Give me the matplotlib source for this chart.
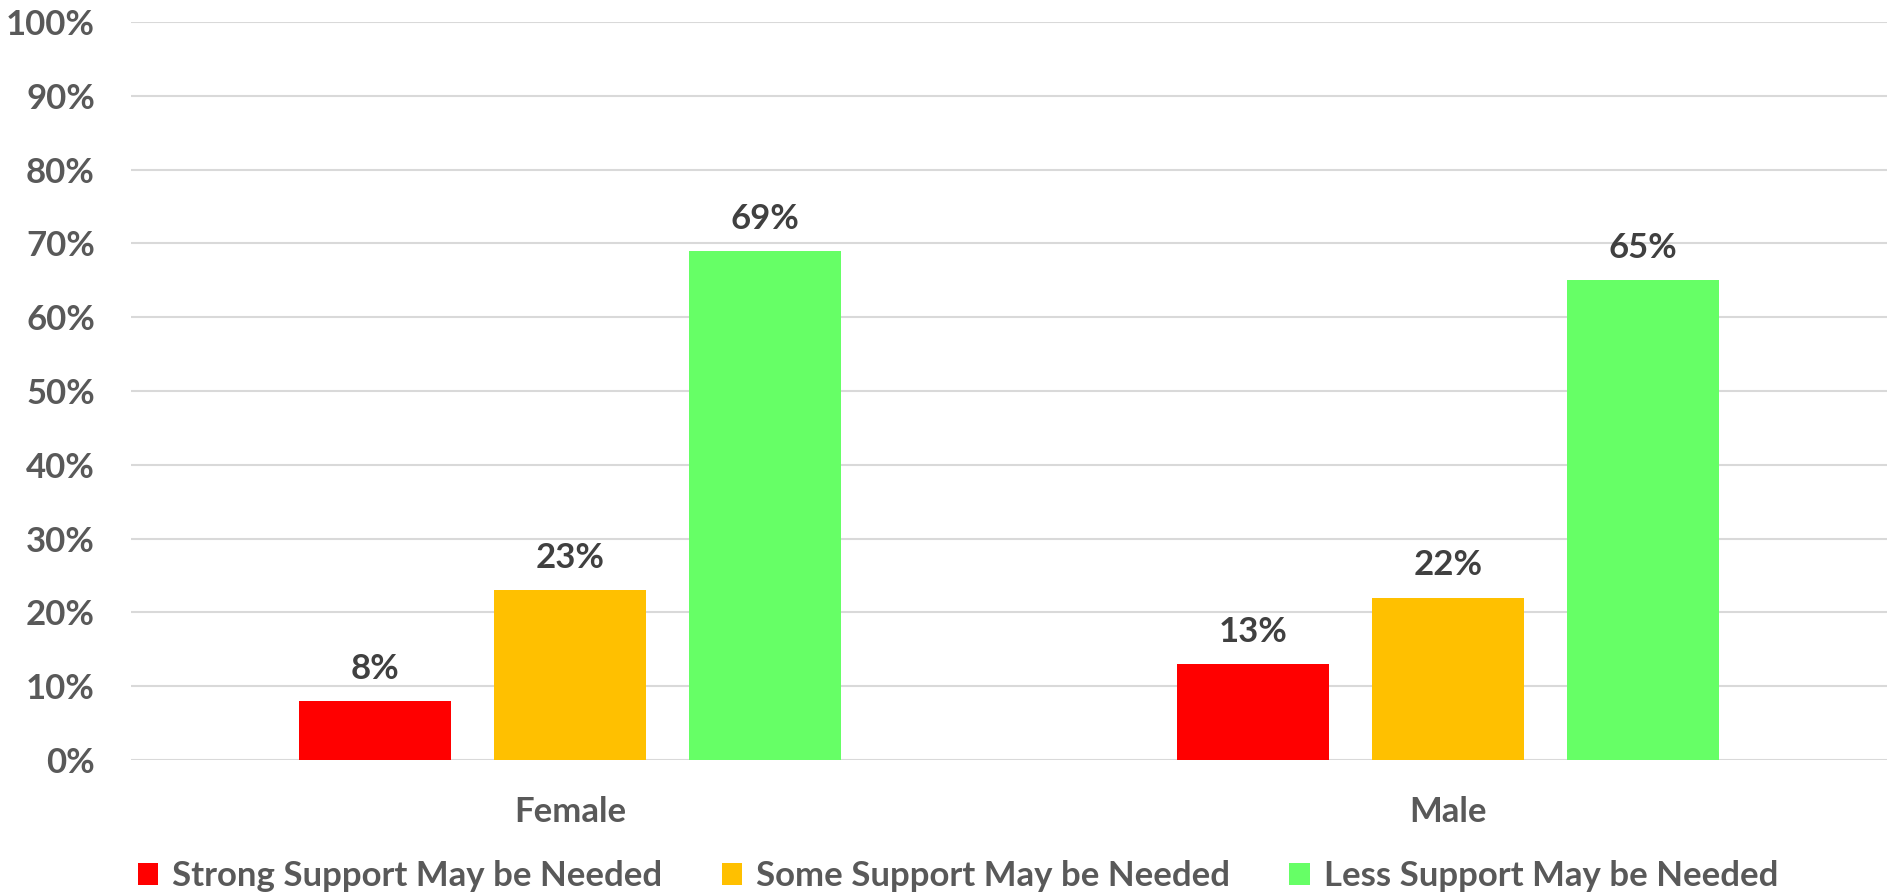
import matplotlib
matplotlib.use('Agg')
import matplotlib.pyplot as plt
import numpy as np

categories = ['Female', 'Male']
series_names = ['Strong Support May be Needed', 'Some Support May be Needed', 'Less Support May be Needed']
strong = [8, 13]
some = [23, 22]
less = [69, 65]
colors = ['#FF0000', '#FFC000', '#66FF66']

plt.rcParams['font.family'] = ['Lato', 'DejaVu Sans']
plt.rcParams['font.weight'] = 'bold'

fig = plt.figure(figsize=(19.02, 8.96), dpi=100)
ax = fig.add_axes([131/1902, 1-760/896, 1756/1902, 738/896])

x = np.arange(len(categories))
step = 0.222
width = 0.174
for i, (vals, name) in enumerate(zip([strong, some, less], series_names)):
    bars = ax.bar(x + (i - 1) * step, vals, width, color=colors[i], label=name, zorder=3)
    for b, v in zip(bars, vals):
        ax.text(b.get_x() + b.get_width()/2, v + 2.2, f'{v}%', ha='center', va='bottom',
                fontsize=25, fontweight='bold', color='#404040')

ax.set_xlim(-0.5, 1.5)
ax.set_ylim(0, 100)
ax.set_yticks(range(0, 101, 10))
ax.set_yticklabels([f'{t}%' for t in range(0, 101, 10)])
ax.set_xticks(x)
ax.set_xticklabels(categories)
ax.tick_params(axis='both', length=0, labelsize=25, labelcolor='#595959')
ax.tick_params(axis='y', pad=26)
ax.tick_params(axis='x', pad=26)
for lbl in ax.get_xticklabels() + ax.get_yticklabels():
    lbl.set_fontweight('bold')
ax.grid(axis='y', color='#D9D9D9', linewidth=1.5, zorder=0)
for s in ax.spines.values():
    s.set_visible(False)

leg = fig.legend(loc='center', bbox_to_anchor=(958/1902, 1-876/896), ncol=3, frameon=False,
                 fontsize=25, handlelength=0.6, handleheight=0.6, handletextpad=0.4,
                 columnspacing=1.7)
for t in leg.get_texts():
    t.set_color('#595959')
    t.set_fontweight('bold')

fig.savefig('out.png', dpi=100)
